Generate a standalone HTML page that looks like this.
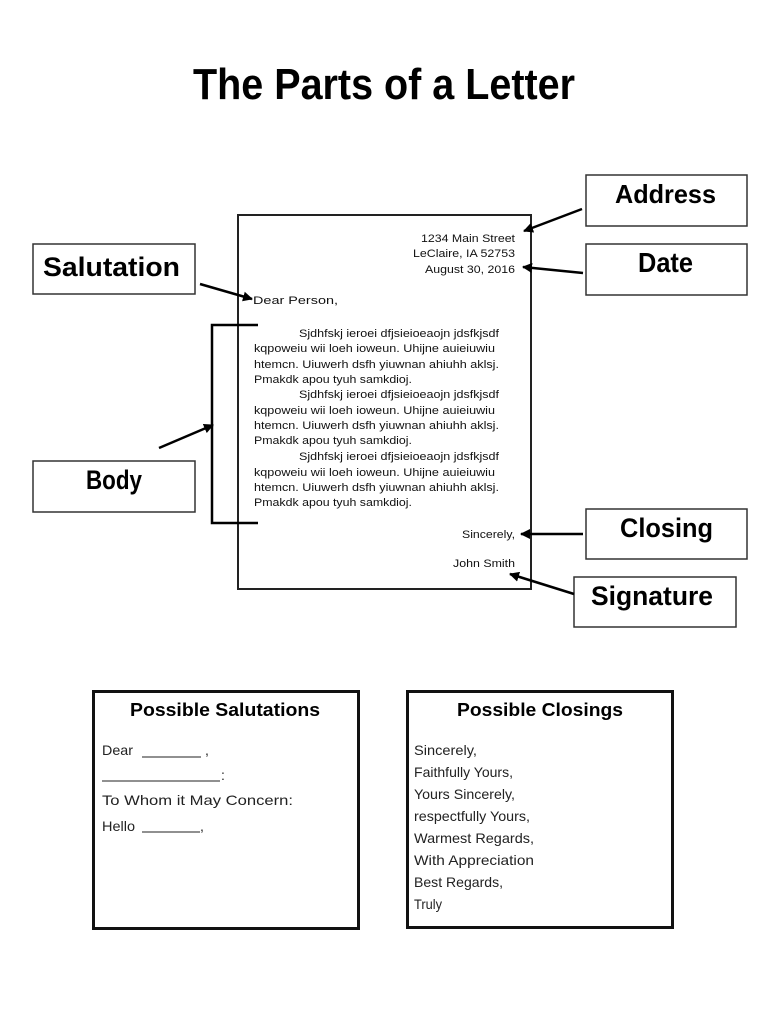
<!DOCTYPE html>
<html><head><meta charset="utf-8"><style>
html,body{margin:0;padding:0;background:#fff;}
svg{display:block;}
</style></head><body>
<svg width="770" height="1024" viewBox="0 0 770 1024" xmlns="http://www.w3.org/2000/svg">
<defs>
<marker id="ah" viewBox="0 0 10 10" refX="9" refY="5" markerWidth="4" markerHeight="4" orient="auto" markerUnits="strokeWidth">
<path d="M0,0 L10,5 L0,10 z" fill="#000"/>
</marker>
</defs>
<rect width="770" height="1024" fill="#fff"/>

<!-- Title -->
<text x="193" y="99" font-family="Liberation Sans, sans-serif" font-weight="bold" font-size="44" textLength="382" lengthAdjust="spacingAndGlyphs" fill="#000">The Parts of a Letter</text>

<!-- Letter -->
<rect x="238" y="215" width="293" height="374" fill="none" stroke="#222" stroke-width="2"/>
<g font-family="Liberation Sans, sans-serif" font-size="11" fill="#111">
<text x="515" y="242" text-anchor="end" textLength="94" lengthAdjust="spacingAndGlyphs">1234 Main Street</text>
<text x="515" y="257" text-anchor="end" textLength="102" lengthAdjust="spacingAndGlyphs">LeClaire, IA 52753</text>
<text x="515" y="273" text-anchor="end" textLength="90" lengthAdjust="spacingAndGlyphs">August 30, 2016</text>
<text x="253" y="304" textLength="85" lengthAdjust="spacingAndGlyphs">Dear Person,</text>

<text x="299" y="337" textLength="200" lengthAdjust="spacingAndGlyphs">Sjdhfskj ieroei dfjsieioeaojn jdsfkjsdf</text>
<text x="254" y="352" textLength="241" lengthAdjust="spacingAndGlyphs">kqpoweiu wii loeh ioweun. Uhijne auieiuwiu</text>
<text x="254" y="368" textLength="245" lengthAdjust="spacingAndGlyphs">htemcn. Uiuwerh dsfh yiuwnan ahiuhh aklsj.</text>
<text x="254" y="383" textLength="158" lengthAdjust="spacingAndGlyphs">Pmakdk apou tyuh samkdioj.</text>

<text x="299" y="398" textLength="200" lengthAdjust="spacingAndGlyphs">Sjdhfskj ieroei dfjsieioeaojn jdsfkjsdf</text>
<text x="254" y="414" textLength="241" lengthAdjust="spacingAndGlyphs">kqpoweiu wii loeh ioweun. Uhijne auieiuwiu</text>
<text x="254" y="429" textLength="245" lengthAdjust="spacingAndGlyphs">htemcn. Uiuwerh dsfh yiuwnan ahiuhh aklsj.</text>
<text x="254" y="444" textLength="158" lengthAdjust="spacingAndGlyphs">Pmakdk apou tyuh samkdioj.</text>

<text x="299" y="460" textLength="200" lengthAdjust="spacingAndGlyphs">Sjdhfskj ieroei dfjsieioeaojn jdsfkjsdf</text>
<text x="254" y="476" textLength="241" lengthAdjust="spacingAndGlyphs">kqpoweiu wii loeh ioweun. Uhijne auieiuwiu</text>
<text x="254" y="491" textLength="245" lengthAdjust="spacingAndGlyphs">htemcn. Uiuwerh dsfh yiuwnan ahiuhh aklsj.</text>
<text x="254" y="506" textLength="158" lengthAdjust="spacingAndGlyphs">Pmakdk apou tyuh samkdioj.</text>

<text x="515" y="538" text-anchor="end" textLength="53" lengthAdjust="spacingAndGlyphs">Sincerely,</text>
<text x="515" y="567" text-anchor="end" textLength="62" lengthAdjust="spacingAndGlyphs">John Smith</text>
</g>

<!-- Bracket -->
<path d="M258,325 L212,325 L212,523 L258,523" fill="none" stroke="#000" stroke-width="2.5"/>

<!-- Label boxes -->
<g fill="#fff" stroke="#333" stroke-width="1.5">
<rect x="586" y="175" width="161" height="51"/>
<rect x="586" y="244" width="161" height="51"/>
<rect x="586" y="509" width="161" height="50"/>
<rect x="574" y="577" width="162" height="50"/>
<rect x="33" y="244" width="162" height="50"/>
<rect x="33" y="461" width="162" height="51"/>
</g>
<g font-family="Liberation Sans, sans-serif" font-weight="bold" fill="#000">
<text x="615" y="203" font-size="26" textLength="101" lengthAdjust="spacingAndGlyphs">Address</text>
<text x="638" y="272" font-size="28" textLength="55" lengthAdjust="spacingAndGlyphs">Date</text>
<text x="620" y="537" font-size="27" textLength="93" lengthAdjust="spacingAndGlyphs">Closing</text>
<text x="591" y="605" font-size="27" textLength="122" lengthAdjust="spacingAndGlyphs">Signature</text>
<text x="43" y="276" font-size="27" textLength="137" lengthAdjust="spacingAndGlyphs">Salutation</text>
<text x="86" y="489" font-size="27" textLength="56" lengthAdjust="spacingAndGlyphs">Body</text>
</g>

<!-- Arrows -->
<g stroke="#000" stroke-width="2.5" fill="none" marker-end="url(#ah)">
<line x1="582" y1="209" x2="524" y2="231"/>
<line x1="583" y1="273" x2="523" y2="267"/>
<line x1="583" y1="534" x2="521" y2="534"/>
<line x1="574" y1="594" x2="510" y2="574"/>
<line x1="200" y1="284" x2="252" y2="299"/>
<line x1="159" y1="448" x2="213" y2="425"/>
</g>

<!-- Possible Salutations -->
<rect x="93.5" y="691.5" width="265" height="237" fill="none" stroke="#111" stroke-width="3"/>
<text x="130" y="716" font-family="Liberation Sans, sans-serif" font-weight="bold" font-size="18" textLength="190" lengthAdjust="spacingAndGlyphs">Possible Salutations</text>
<g font-family="Liberation Sans, sans-serif" font-size="14" fill="#222">
<text x="102" y="755" textLength="31" lengthAdjust="spacingAndGlyphs">Dear</text>
<line x1="142" y1="757" x2="201" y2="757" stroke="#222" stroke-width="1"/>
<text x="205" y="755">,</text>
<line x1="102" y1="781" x2="220" y2="781" stroke="#222" stroke-width="1"/>
<text x="221" y="780">:</text>
<text x="102" y="805" textLength="191" lengthAdjust="spacingAndGlyphs">To Whom it May Concern:</text>
<text x="102" y="831" textLength="33" lengthAdjust="spacingAndGlyphs">Hello</text>
<line x1="142" y1="832" x2="200" y2="832" stroke="#222" stroke-width="1"/>
<text x="200" y="831">,</text>
</g>

<!-- Possible Closings -->
<rect x="407.5" y="691.5" width="265" height="236" fill="none" stroke="#111" stroke-width="3"/>
<text x="457" y="716" font-family="Liberation Sans, sans-serif" font-weight="bold" font-size="18" textLength="166" lengthAdjust="spacingAndGlyphs">Possible Closings</text>
<g font-family="Liberation Sans, sans-serif" font-size="14" fill="#222">
<text x="414" y="755" textLength="63" lengthAdjust="spacingAndGlyphs">Sincerely,</text>
<text x="414" y="777" textLength="99" lengthAdjust="spacingAndGlyphs">Faithfully Yours,</text>
<text x="414" y="799" textLength="101" lengthAdjust="spacingAndGlyphs">Yours Sincerely,</text>
<text x="414" y="821" textLength="116" lengthAdjust="spacingAndGlyphs">respectfully Yours,</text>
<text x="414" y="843" textLength="120" lengthAdjust="spacingAndGlyphs">Warmest Regards,</text>
<text x="414" y="865" textLength="120" lengthAdjust="spacingAndGlyphs">With Appreciation</text>
<text x="414" y="887" textLength="89" lengthAdjust="spacingAndGlyphs">Best Regards,</text>
<text x="414" y="909" textLength="28" lengthAdjust="spacingAndGlyphs">Truly</text>
</g>
</svg>
</body></html>
